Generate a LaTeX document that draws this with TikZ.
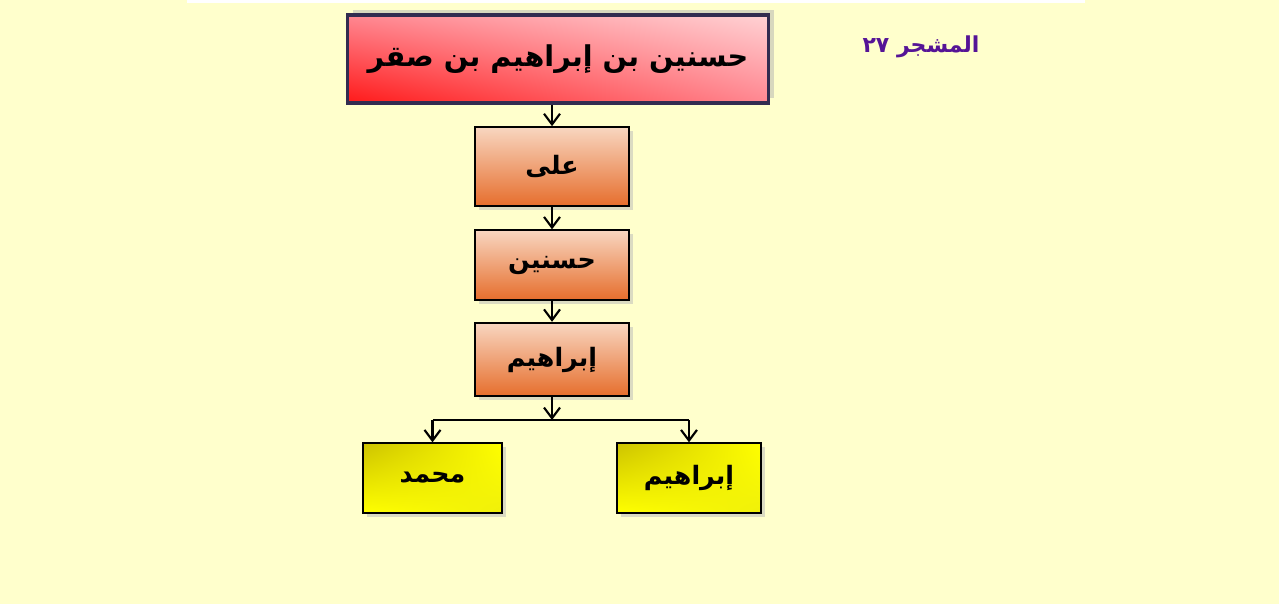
\documentclass[tikz,border=0pt]{standalone}
\usepackage{fontspec}
\usetikzlibrary{arrows.meta,shadows,shadings}
\TeXXeTstate=1
\newfontfamily\arabicfont[Script=Arabic]{DejaVu Sans}

\definecolor{paper}{RGB}{255,255,204}
\definecolor{titleedge}{RGB}{50,44,80}
\definecolor{redlow}{RGB}{255,25,25}
\definecolor{redmid}{RGB}{255,135,145}
\definecolor{redhigh}{RGB}{255,210,212}
\definecolor{peachtop}{RGB}{248,214,192}
\definecolor{orangebot}{RGB}{230,110,45}
\definecolor{olive}{RGB}{205,195,0}
\definecolor{yellowmid}{RGB}{255,255,0}
\definecolor{yellowlow}{RGB}{240,240,10}
\definecolor{labelpurple}{RGB}{85,20,150}

\tikzset{
  arabic/.style={font=\arabicfont\bfseries},
  titlebox/.style={arabic, draw=titleedge, line width=2.4pt, minimum width=316pt, minimum height=66pt,
    upper left=redmid, upper right=redhigh, lower left=redlow, lower right=redmid,
    drop shadow={shadow xshift=4pt, shadow yshift=4pt, fill=gray!60}, font=\arabicfont\bfseries\fontsize{21.5}{26}\selectfont},
  namebox/.style={arabic, draw=black, line width=1.5pt, minimum width=115pt, minimum height=54pt,
    top color=peachtop, bottom color=orangebot,
    drop shadow={shadow xshift=3pt, shadow yshift=-3pt, fill=gray!55}, font=\arabicfont\bfseries\fontsize{19}{23}\selectfont},
  leafbox/.style={arabic, draw=black, line width=1.5pt, minimum height=52pt,
    upper left=olive, upper right=yellowmid, lower left=yellowmid, lower right=yellowlow,
    drop shadow={shadow xshift=3pt, shadow yshift=-3pt, fill=gray!55}, font=\arabicfont\bfseries\fontsize{19}{23}\selectfont},
  link/.style={line width=1.6pt, -{Straight Barb[length=8pt,width=12pt]}},
}

\begin{document}
\begin{tikzpicture}[x=0.75pt,y=0.75pt,yscale=-1]
% background
\fill[paper] (0,0) rectangle (1279,604);
\fill[white] (187,0) rectangle (1085,3);
\useasboundingbox (0,0) rectangle (1279,604);

% title
\node[titlebox] (head) at (558,59) {\beginR حسنين بن إبراهيم بن صقر\endR};
\node[font=\arabicfont\bfseries\fontsize{16.5}{20}\selectfont, text=labelpurple] (tree) at (921,47) {\beginR المشجر ٢٧\endR};

% chain
\node[namebox, minimum height=59pt] (ali) at (552,166.5) {\beginR على\endR};
\node[namebox, minimum height=52pt] (hasnin) at (552,265) {\beginR حسنين\endR};
\node[namebox, minimum height=55pt] (ibrahim) at (552,359.5) {\beginR إبراهيم\endR};

% sons
\node[leafbox, minimum width=104pt] (muhammad) at (432.5,478) {\beginR محمد\endR};
\node[leafbox, minimum width=108pt] (ibrahimb) at (689,478) {\beginR إبراهيم\endR};

% links
\draw[link] (head.south -| ali.north) -- (ali.north);
\draw[link] (ali) -- (hasnin);
\draw[link] (hasnin) -- (ibrahim);
\coordinate (fork) at (ibrahim.south |- 0,420);
\draw[link] (ibrahim) -- (fork);
\draw[line width=1.6pt] (fork -| muhammad.north) -- (fork -| ibrahimb.north);
\draw[link] (fork -| muhammad.north) -- (muhammad.north);
\draw[link] (fork -| ibrahimb.north) -- (ibrahimb.north);

\end{tikzpicture}
\end{document}
